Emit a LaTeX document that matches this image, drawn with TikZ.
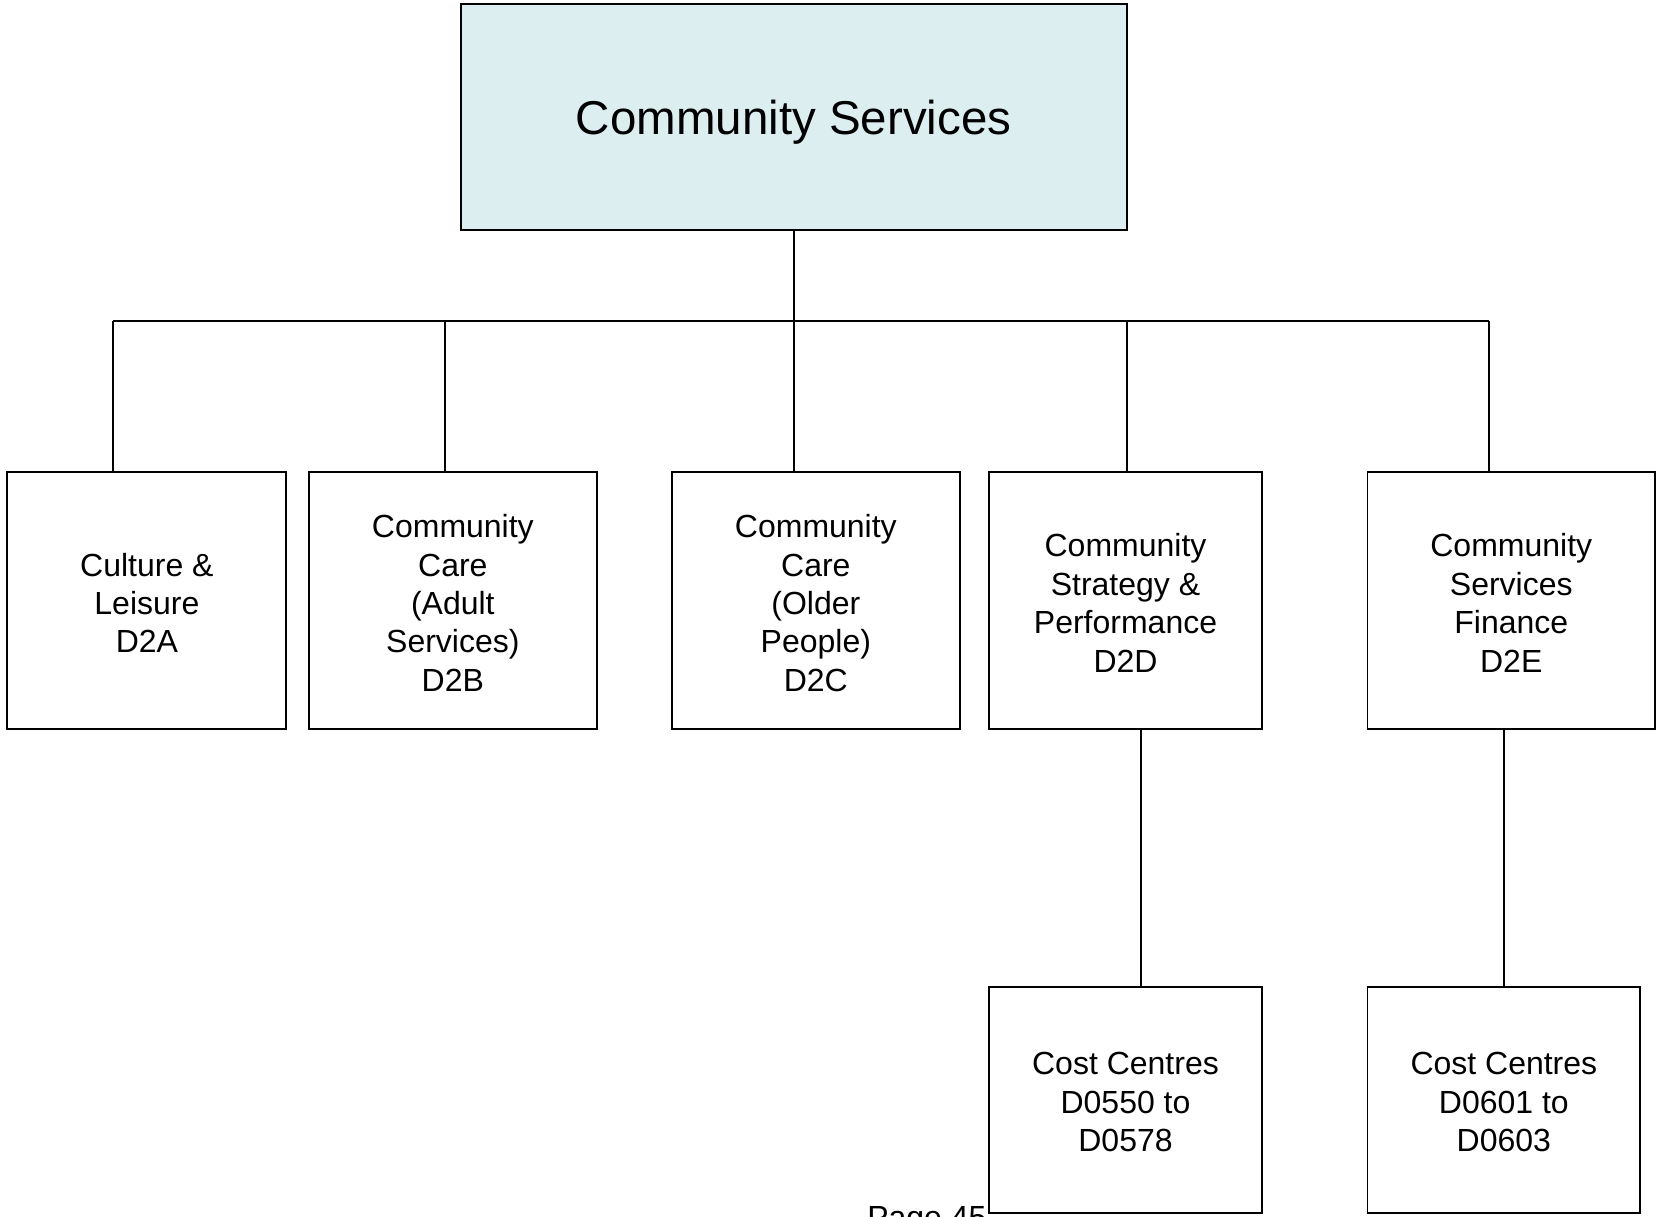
\documentclass[tikz,border=0pt]{standalone}
\usepackage{fontspec}
\setmainfont{Liberation Sans}
\definecolor{headfill}{RGB}{221,238,241}
\begin{document}
\begin{tikzpicture}[x=1pt,y=-1pt,
  link/.style={draw=black, line width=1.8pt},
  unit/.style={draw=black, line width=1.9pt, rectangle, align=center,
    inner sep=0pt, font=\fontsize{32}{38.4}\selectfont},
  head/.style={unit, fill=headfill, font=\fontsize{47.5}{56}\selectfont}]
\useasboundingbox (0,0) rectangle (1657,1217);

% top level
\node[head, minimum width=665.8pt, minimum height=226.2pt] (top) at (793.7,117.3) {};
\node[inner sep=0pt, font=\fontsize{47.5}{56}\selectfont] (toptext) at (793.7,122.5) {Community Services};

% divisions
\node[unit, minimum width=279pt, minimum height=256.8pt] (dA) at (146.9,600.8) {};
\node[unit, minimum width=288.5pt, minimum height=256.8pt] (dB) at (452.85,600.8) {};
\node[unit, minimum width=287.5pt, minimum height=256.8pt] (dC) at (815.85,600.8) {};
\node[unit, minimum width=272.6pt, minimum height=256.8pt] (dD) at (1125.5,600.8) {};
\node[unit, minimum width=287.5pt, minimum height=256.8pt] (dE) at (1511.25,600.8) {};
\node[unit, draw=none] (tA) at (146.9,603) {Culture \&\\Leisure\\D2A};
\node[unit, draw=none] (tB) at (452.85,603) {Community\\Care\\(Adult\\Services)\\D2B};
\node[unit, draw=none] (tC) at (815.85,603) {Community\\Care\\(Older\\People)\\D2C};
\node[unit, draw=none] (tD) at (1125.5,603) {Community\\Strategy \&\\Performance\\D2D};
\node[unit, draw=none] (tE) at (1511.25,603) {Community\\Services\\Finance\\D2E};

% cost centres
\node[unit, minimum width=272.6pt, minimum height=226.2pt] (cD) at (1125.5,1100.1) {};
\node[unit, minimum width=272.7pt, minimum height=226.2pt] (cE) at (1503.85,1100.1) {};
\node[unit, draw=none] (tcD) at (1125.5,1102.3) {Cost Centres\\D0550 to\\D0578};
\node[unit, draw=none] (tcE) at (1503.85,1102.3) {Cost Centres\\D0601 to\\D0603};

% page footer
\node[anchor=base east, inner sep=0pt, font=\fontsize{32}{38.4}\selectfont] (page) at (986.7,1228) {Page 45};

% bus line and drop points
\coordinate (busA) at (113,321.3);
\coordinate (busB) at (445,321.3);
\coordinate (busC) at (793.7,321.3);
\coordinate (busD) at (1127,321.3);
\coordinate (busE) at (1489,321.3);
\coordinate (legD) at (1141.3,729.2);
\coordinate (legE) at (1503.9,729.2);

\draw[link] (top.south) -- (busC);
\draw[link] (busA) -- (busE);
\draw[link] (busA) -- (busA |- dA.north);
\draw[link] (busB) -- (busB |- dB.north);
\draw[link] (busC) -- (busC |- dC.north);
\draw[link] (busD) -- (busD |- dD.north);
\draw[link] (busE) -- (busE |- dE.north);
\draw[link] (legD |- dD.south) -- (legD |- cD.north);
\draw[link] (legE |- dE.south) -- (legE |- cE.north);
\end{tikzpicture}
\end{document}
